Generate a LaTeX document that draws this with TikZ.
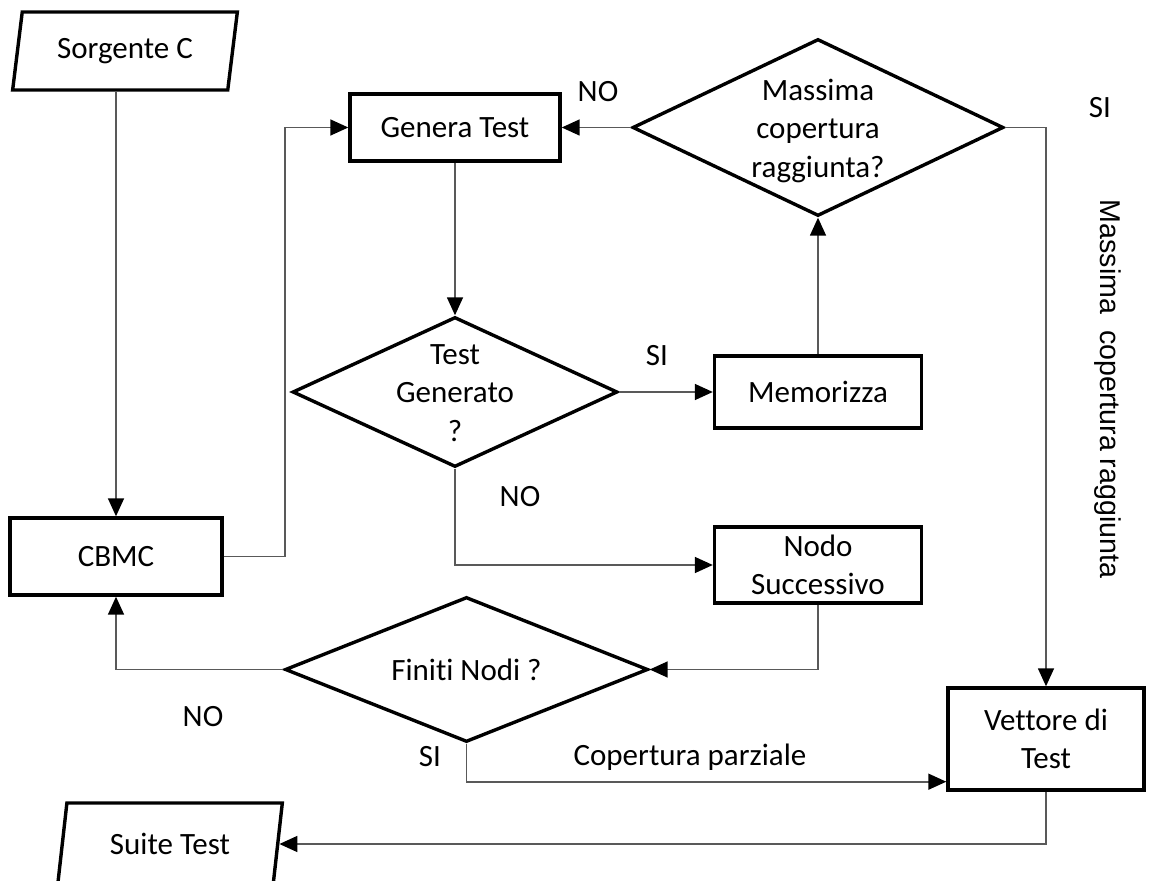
\documentclass[tikz,border=0pt]{standalone}
\usepackage{fontspec}
\setmainfont[Ligatures=NoCommon]{Carlito}
\newfontfamily\arialfont{Liberation Sans}
\usetikzlibrary{shapes.geometric,arrows.meta}

\begin{document}
\begin{tikzpicture}[x=0.5pt,y=-0.5pt,
  font=\fontsize{15.5}{19.2}\selectfont,
  box/.style={draw=black,line width=1.7pt,rectangle,inner sep=0pt,align=center},
  decision/.style={draw=black,line width=1.7pt,diamond,inner sep=0pt},
  io/.style={draw=black,line width=1.7pt,trapezium,trapezium left angle=76,
    trapezium right angle=104,trapezium stretches=true,inner sep=0pt},
  flow/.style={draw=black!65,line width=0.8pt,
    -{Triangle[length=9pt,width=8pt,color=black]}},
  tag/.style={inner sep=0pt}
]
\useasboundingbox (0,0) rectangle (1151,881);
\clip (0,0) rectangle (1151,881);

% process boxes and decisions
\node[io, minimum width=113pt, minimum height=39pt] (src) at (125,51) {Sorgente C};
\node[box, minimum width=105pt, minimum height=33.5pt] (gen) at (455,127.5) {Genera Test};
\node[decision, minimum width=185.5pt, minimum height=88.5pt] (maxc) at (818,127.5) {};
\node[align=center] (maxcT) at (818,131) {Massima\\copertura\\raggiunta?};
\node[decision, minimum width=162.5pt, minimum height=75pt] (tg) at (455,392) {};
\node[align=center] (tgT) at (455,393) {Test\\Generato\\?};
\node[box, minimum width=103.5pt, minimum height=36pt] (mem) at (818,392) {Memorizza};
\node[box, minimum width=103.5pt, minimum height=38pt] (nodo) at (818,565) {Nodo\\Successivo};
\node[box, minimum width=106pt, minimum height=38.5pt] (cbmc) at (116,556.5) {CBMC};
\node[decision, minimum width=181.5pt, minimum height=72.5pt] (fin) at (466.5,669.5) {};
\node (finT) at (466.5,670) {Finiti Nodi ?};
\node[box, minimum width=98pt, minimum height=51pt] (vet) at (1046,739) {Vettore di\\Test};
\node[io, minimum width=113pt, minimum height=41pt] (suite) at (170,844) {Suite Test};

% connectors
\coordinate (c1) at (285,556.5);
\draw[flow] (src.south -| cbmc.north) -- (cbmc.north);
\draw[flow] (cbmc.east) -- (c1) |- (gen.west);
\draw[flow] (gen.south) -- (tg.north);
\draw[flow] (tg.east) -- (mem.west);
\draw[flow] (mem.north) -- (maxc.south);
\draw[flow] (maxc.west) -- (gen.east);
\draw[flow] (maxc.east) -| (vet.north);
\draw[flow] (tg.south) |- (nodo.west);
\draw[flow] (nodo.south) |- (fin.east);
\draw[flow] (fin.west) -| (cbmc.south);
\draw[flow] (fin.south) |- ([yshift=5pt]vet.south west);
\draw[flow] (vet.south) |- (suite.east);

% branch labels
\node[tag] (noA) at (598,92) {NO};
\node[tag] (siA) at (1100,108) {SI};
\node[tag] (siB) at (657,356) {SI};
\node[tag] (noB) at (520,497) {NO};
\node[tag] (noC) at (203,717) {NO};
\node[tag] (siC) at (430,757) {SI};
\node[tag] (cop) at (690,757) {Copertura parziale};
\node[tag, rotate=-90, font=\arialfont\fontsize{14.3}{17}\selectfont] (vert) at (1108,389)
  {Massima~~copertura raggiunta};
\end{tikzpicture}
\end{document}
